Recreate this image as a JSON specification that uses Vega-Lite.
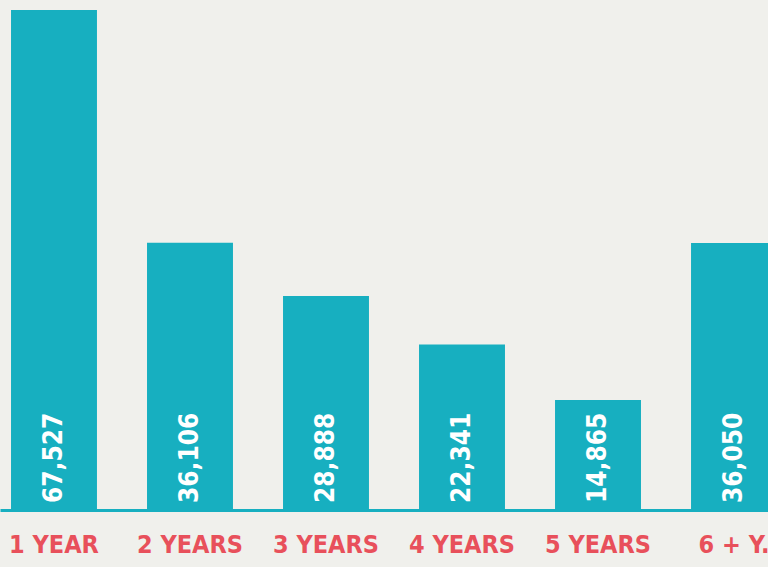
{
  "$schema": "https://vega.github.io/schema/vega-lite/v6.json",
  "width": 788,
  "height": 500,
  "autosize": {"type": "none"},
  "padding": {"left": 0, "top": 10, "right": 0, "bottom": 57},
  "background": "#f0f0ec",
  "config": {"view": {"stroke": null}},
  "data": {
    "values": [
      {"tenure": "1 YEAR", "count": 67527},
      {"tenure": "2 YEARS", "count": 36106},
      {"tenure": "3 YEARS", "count": 28888},
      {"tenure": "4 YEARS", "count": 22341},
      {"tenure": "5 YEARS", "count": 14865},
      {"tenure": "6 + Y.", "count": 36050}
    ]
  },
  "encoding": {
    "x": {
      "field": "tenure",
      "type": "nominal",
      "sort": null,
      "scale": {"paddingInner": 0.368, "paddingOuter": 0.081},
      "axis": {
        "title": null,
        "labelAngle": 0,
        "ticks": false,
        "domainColor": "#17afc0",
        "domainWidth": 3,
        "labelColor": "#e8505b",
        "labelFont": "DejaVu Sans Condensed, Liberation Sans Narrow, Liberation Sans, sans-serif",
        "labelFontSize": 25,
        "labelFontWeight": "bold",
        "labelPadding": 22,
        "labelOverlap": false
      }
    }
  },
  "layer": [
    {
      "mark": {"type": "bar", "color": "#17afc0"},
      "encoding": {
        "y": {
          "field": "count",
          "type": "quantitative",
          "scale": {"domain": [0, 67527], "nice": false},
          "axis": null
        }
      }
    },
    {
      "mark": {
        "type": "text",
        "angle": 270,
        "align": "left",
        "baseline": "middle",
        "dx": 7,
        "color": "white",
        "font": "DejaVu Sans Condensed, Liberation Sans Narrow, Liberation Sans, sans-serif",
        "fontSize": 26,
        "fontWeight": "bold"
      },
      "encoding": {
        "y": {"datum": 0, "type": "quantitative"},
        "text": {"field": "count", "type": "quantitative", "format": ","}
      }
    }
  ]
}
